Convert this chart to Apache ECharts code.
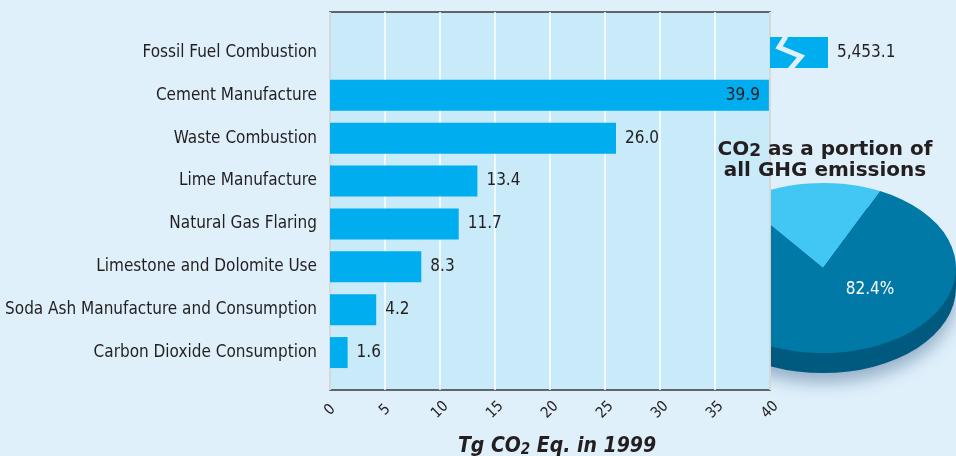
<!DOCTYPE html>
<html>
<head>
<meta charset="utf-8">
<script src="https://cdn.jsdelivr.net/npm/echarts@6/dist/echarts.min.js"></script>
<style>
  html, body { margin: 0; padding: 0; background: #dff0fb; }
  #main { width: 956px; height: 456px; }
</style>
</head>
<body>
<div id="main"></div>
<script>
var categories = [
  'Fossil Fuel Combustion',
  'Cement Manufacture',
  'Waste Combustion',
  'Lime Manufacture',
  'Natural Gas Flaring',
  'Limestone and Dolomite Use',
  'Soda Ash Manufacture and Consumption',
  'Carbon Dioxide Consumption'
];
var values = [5453.1, 39.9, 26.0, 13.4, 11.7, 8.3, 4.2, 1.6];
var xTicks = [0, 5, 10, 15, 20, 25, 30, 35, 40];
var pieNames = ['Other GHG', 'CO2'];
var pieValues = [17.6, 82.4];

var NARROW = '"Liberation Sans Narrow", "DejaVu Sans Condensed", sans-serif';
var axisMax = xTicks[xTicks.length - 1];

var chart = echarts.init(document.getElementById('main'));

// bars that fit on the 0-40 scale, and the one that is broken off
var mainData = values.map(function (v) {
  if (v > axisMax) return '-';
  return {
    value: v,
    label: { position: v > axisMax * 0.9 ? 'insideRight' : 'right' }
  };
});
var brokenData = values.map(function (v) {
  return v > axisMax ? v : '-';
});

var pieTotal = pieValues.reduce(function (a, b) { return a + b; }, 0);
var pieCx = 823, pieCy = 268, pieR = 133, pieSquash = 0.64, pieDepth = 20;
var pieStart = 64.6; // degrees, counter-clockwise from 3 o'clock
var pieColors = ['#42c7f4', '#0079a6'];

function renderPie(params, api) {
  var idx = params.dataIndex;
  var before = 0;
  for (var i = 0; i < idx; i++) before += pieValues[i];
  var a0 = -(pieStart + before / pieTotal * 360) * Math.PI / 180;
  var a1 = a0 - api.value(0) / pieTotal * 2 * Math.PI;
  var children = [];
  if (idx === 0) {
    // side / thickness of the disc
    children.push({
      type: 'group', x: pieCx, y: pieCy + pieDepth, scaleY: pieSquash,
      children: [{
        type: 'circle', shape: { cx: 0, cy: 0, r: pieR },
        style: { fill: '#005a80', shadowBlur: 16, shadowColor: 'rgba(20,60,110,0.35)', shadowOffsetY: 10 }
      }]
    });
    children.push({
      type: 'rect', shape: { x: pieCx - pieR, y: pieCy, width: pieR * 2, height: pieDepth },
      style: { fill: '#005a80' }
    });
  }
  children.push({
    type: 'group', x: pieCx, y: pieCy, scaleY: pieSquash,
    children: [{
      type: 'sector',
      shape: { cx: 0, cy: 0, r0: 0, r: pieR, startAngle: a1, endAngle: a0, clockwise: true },
      style: { fill: pieColors[idx] }
    }]
  });
  if (idx === 1) {
    children.push({
      type: 'text', x: pieCx + 47, y: pieCy + 22, z2: 10,
      style: {
        text: api.value(0).toFixed(1) + '%', fill: '#ffffff',
        font: '17px ' + NARROW, align: 'center', verticalAlign: 'middle'
      }
    });
  }
  return { type: 'group', children: children };
}

var option = {
  backgroundColor: '#dff0fb',
  animation: false,
  title: {
    text: 'CO{s|2} as a portion of\nall GHG emissions',
    left: 820, top: 134, textAlign: 'center',
    textStyle: {
      fontFamily: '"DejaVu Sans", sans-serif',
      fontWeight: 'bold', fontSize: 20, color: '#231f20', lineHeight: 21,
      rich: {
        s: { fontFamily: '"DejaVu Sans", sans-serif', fontWeight: 'bold', fontSize: 17, color: '#231f20', padding: [4, 0, 0, 0] }
      }
    }
  },
  grid: [
    { left: 330, top: 12, width: 440, height: 378, show: true, outerBoundsMode: 'none',
      backgroundColor: '#c8eaf9', borderColor: '#3a3a3a', borderWidth: 1.5 },
    { left: 330, top: 31, width: 440, height: 343, outerBoundsMode: 'none' },
    { left: 770, top: 31, width: 58, height: 343, outerBoundsMode: 'none' }
  ],
  xAxis: [
    {
      gridIndex: 0, type: 'value', min: xTicks[0], max: axisMax, interval: 5,
      axisLine: { show: false }, axisTick: { show: false },
      splitLine: { lineStyle: { color: '#ffffff', width: 1.5 } },
      axisLabel: {
        rotate: 45, align: 'center', verticalAlign: 'middle', margin: 20,
        fontFamily: NARROW, fontSize: 15, color: '#231f20'
      },
      name: 'Tg CO{s|2} Eq. in 1999',
      nameLocation: 'middle', nameGap: 45,
      nameTextStyle: {
        fontFamily: NARROW, fontWeight: 'bold', fontStyle: 'italic',
        fontSize: 21, color: '#231f20', padding: [0, 0, 0, 14],
        rich: {
          s: { fontFamily: NARROW, fontWeight: 'bold', fontStyle: 'italic', fontSize: 15, color: '#231f20', padding: [8, 0, 0, 0] }
        }
      }
    },
    { gridIndex: 1, type: 'value', min: xTicks[0], max: axisMax, show: false },
    { gridIndex: 2, type: 'value', min: 5400, max: values[0], show: false }
  ],
  yAxis: [
    { gridIndex: 0, type: 'value', show: false },
    {
      gridIndex: 1, type: 'category', inverse: true, data: categories,
      axisLine: { show: false }, axisTick: { show: false },
      axisLabel: { margin: 13, fontFamily: NARROW, fontSize: 17, color: '#231f20' }
    },
    { gridIndex: 2, type: 'category', inverse: true, data: categories, show: false }
  ],
  series: [
    {
      type: 'bar', xAxisIndex: 1, yAxisIndex: 1, barWidth: 31,
      itemStyle: { color: '#00aeef' },
      label: {
        show: true, distance: 9, fontFamily: NARROW, fontSize: 17, color: '#231f20',
        formatter: function (p) { return p.value.toFixed(1); }
      },
      data: mainData
    },
    {
      type: 'bar', xAxisIndex: 2, yAxisIndex: 2, barWidth: 31,
      itemStyle: { color: '#00aeef' },
      label: {
        show: true, position: 'right', distance: 9, fontFamily: NARROW, fontSize: 17, color: '#231f20',
        formatter: function (p) {
          return p.value.toLocaleString('en-US', { minimumFractionDigits: 1, maximumFractionDigits: 1 });
        }
      },
      data: brokenData
    },
    {
      type: 'custom', coordinateSystem: 'none', z: -1, silent: true,
      renderItem: renderPie,
      data: pieValues.map(function (v, i) { return { name: pieNames[i], value: [v] }; })
    }
  ]
};

chart.setOption(option);

// zig-zag break mark on the truncated bar
var p = chart.convertToPixel({ xAxisIndex: 2, yAxisIndex: 2 }, [5400, categories[0]]);
chart.setOption({
  graphic: [{
    type: 'polyline', z: 20,
    shape: { points: [[p[0] + 16, p[1] - 16], [p[0] + 9, p[1] - 5], [p[0] + 31, p[1] + 4], [p[0] + 20, p[1] + 17]] },
    style: { stroke: '#dff0fb', lineWidth: 5, fill: null, lineJoin: 'miter' }
  }]
});
</script>
</body>
</html>
